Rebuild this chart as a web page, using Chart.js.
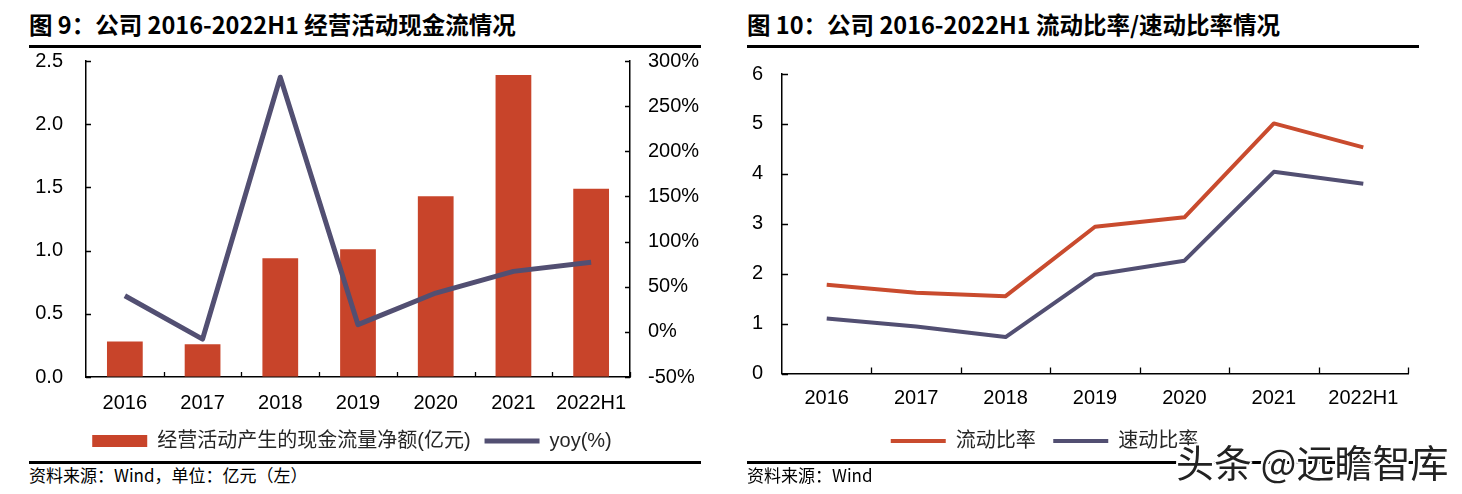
<!DOCTYPE html>
<html><head><meta charset="utf-8">
<script src="https://cdn.jsdelivr.net/npm/chart.js@4.4.0/dist/chart.umd.min.js"></script>
<style>
html,body{margin:0;padding:0;background:#fff;width:1462px;height:494px;overflow:hidden;position:relative;font-family:"Noto Sans CJK SC",sans-serif}
.t{position:absolute;top:9px;font-weight:bold;font-size:23.5px;line-height:30px;color:#000;white-space:nowrap}
.rule{position:absolute;height:3px;background:#000}
.src{position:absolute;top:464px;font-size:17px;line-height:22px;color:#000;white-space:nowrap}
.wrap{position:absolute}
.wm{position:absolute;left:1176px;top:437px;font-size:38px;line-height:48px;color:#222;white-space:nowrap;z-index:5;
 text-shadow:-2px 0 #fff,2px 0 #fff,0 -2px #fff,0 2px #fff,-2px -2px #fff,2px 2px #fff,-2px 2px #fff,2px -2px #fff}
</style></head>
<body>
<div class="t" style="left:29px">图 9：公司 2016-2022H1 经营活动现金流情况</div>
<div class="rule" style="left:29px;width:672px;top:45px"></div>
<div class="t" style="left:747px">图 10：公司 2016-2022H1 流动比率/速动比率情况</div>
<div class="rule" style="left:747px;width:672px;top:45px"></div>

<div class="wrap" style="left:-26px;top:21px;width:756px;height:440px"><canvas id="c1"></canvas></div>
<div class="wrap" style="left:681px;top:34px;width:781px;height:427px"><canvas id="c2"></canvas></div>

<div class="rule" style="left:29px;width:672px;top:461px"></div>
<div class="rule" style="left:747px;width:672px;top:461px"></div>
<div class="src" style="left:29px">资料来源：Wind，单位：亿元（左）</div>
<div class="src" style="left:747px">资料来源：Wind</div>
<div class="wm">头条 @远瞻智库</div>

<script>
// ---- data ----
const categories = ['2016', '2017', '2018', '2019', '2020', '2021', '2022H1'];
const cashFlowNet = [0.28, 0.26, 0.94, 1.01, 1.43, 2.39, 1.49];     // 亿元
const cashFlowYoy = [40, -8, 282, 8, 43, 67, 77];                   // %
const currentRatio = [1.78, 1.62, 1.55, 2.94, 3.13, 5.01, 4.53];
const quickRatio = [1.10, 0.94, 0.73, 1.98, 2.26, 4.04, 3.80];
const cashAxisTicks = [0, 0.5, 1.0, 1.5, 2.0, 2.5];
const yoyAxisTicks = [-50, 0, 50, 100, 150, 200, 250, 300];
const ratioAxisTicks = [0, 1, 2, 3, 4, 5, 6];
const barLabel = '经营活动产生的现金流量净额(亿元)';
const yoyLabel = 'yoy(%)';
const currentLabel = '流动比率';
const quickLabel = '速动比率';

const RED = '#C8442A';
const PURPLE = '#524F72';
const RED_LINE = '#C94B2E';
const TICK_FONT = {family: '"Liberation Sans", Arial, sans-serif', size: 20};
const LEG_FONT = {family: '"Liberation Sans", "Noto Sans CJK SC", sans-serif', size: 20};

const innerTicks = {
  id: 'innerTicks',
  afterDraw(chart, args, opts) {
    const {ctx, chartArea: a} = chart;
    const len = opts.len || 5;
    ctx.save();
    ctx.strokeStyle = '#000';
    ctx.lineWidth = 1.3;
    ctx.beginPath();
    for (const id of Object.keys(chart.scales)) {
      const s = chart.scales[id];
      if (s.axis === 'y') {
        s.ticks.forEach((t, i) => {
          const y = Math.round(s.getPixelForTick(i)) + 0.5;
          if (s.position === 'left') { ctx.moveTo(a.left, y); ctx.lineTo(a.left + len, y); }
          else { ctx.moveTo(a.right, y); ctx.lineTo(a.right - len, y); }
        });
      } else {
        const n = s.ticks.length;
        const w = (s.right - s.left) / n;
        for (let i = 1; i <= n; i++) {
          const x = Math.round(s.left + i * w) + 0.5;
          ctx.moveTo(x, a.bottom); ctx.lineTo(x, a.bottom - len);
        }
      }
    }
    ctx.stroke();
    ctx.restore();
  }
};

function legendLabels(chart) {
  const items = Chart.defaults.plugins.legend.labels.generateLabels(chart);
  items.forEach(it => {
    const ds = chart.data.datasets[it.datasetIndex];
    if (ds.type === 'bar') { it.pointStyle = 'rect'; it.lineWidth = 0; }
    else { it.pointStyle = 'line'; it.lineWidth = ds.borderWidth; it.strokeStyle = ds.borderColor; }
  });
  return items;
}

function fixTicks(arr) {
  return function (scale) {
    scale.ticks = arr.map(v => ({value: v}));
  };
}

const axisBorder = {display: true, color: '#000', width: 1.5};
const noGrid = {display: true, drawOnChartArea: false, drawTicks: false};

new Chart(document.getElementById('c1'), {
  data: {
    labels: categories,
    datasets: [
      {type: 'bar', label: barLabel, data: cashFlowNet, yAxisID: 'y', backgroundColor: RED,
       borderWidth: 0, barPercentage: 0.46, categoryPercentage: 1, order: 1},
      {type: 'line', label: yoyLabel, data: cashFlowYoy, yAxisID: 'y1', borderColor: PURPLE,
       backgroundColor: PURPLE, borderWidth: 5, pointRadius: 0, tension: 0,
       borderJoinStyle: 'round', order: 0}
    ]
  },
  options: {
    responsive: true, maintainAspectRatio: false, animation: false,
    layout: {padding: {top: 40, left: 0, right: 0, bottom: 0}},
    plugins: {
      tooltip: {enabled: false},
      innerTicks: {len: 5},
      legend: {
        position: 'bottom',
        labels: {usePointStyle: true, pointStyleWidth: 55, boxWidth: 55, boxHeight: 12, padding: 14,
                 font: LEG_FONT, color: '#262626', generateLabels: legendLabels,
                 sort: (a, b) => a.datasetIndex - b.datasetIndex}
      }
    },
    scales: {
      x: {
        grid: {...noGrid, offset: true}, border: axisBorder,
        ticks: {font: TICK_FONT, color: '#000', padding: 14, maxRotation: 0, autoSkip: false},
        afterFit(s) { s.height = 40; }
      },
      y: {
        position: 'left', min: 0, max: 2.5,
        grid: noGrid, border: axisBorder,
        ticks: {font: TICK_FONT, color: '#000', padding: 23, callback: v => Number(v).toFixed(1)},
        afterBuildTicks: fixTicks(cashAxisTicks),
        afterFit(s) { s.width = 112; }
      },
      y1: {
        position: 'right', min: -50, max: 300,
        grid: noGrid, border: axisBorder,
        ticks: {font: TICK_FONT, color: '#000', padding: 18, callback: v => v + '%'},
        afterBuildTicks: fixTicks(yoyAxisTicks),
        afterFit(s) { s.width = 100; }
      }
    }
  },
  plugins: [innerTicks]
});

new Chart(document.getElementById('c2'), {
  type: 'line',
  data: {
    labels: categories,
    datasets: [
      {type: 'line', label: currentLabel, data: currentRatio, borderColor: RED_LINE, backgroundColor: RED_LINE,
       borderWidth: 4, pointRadius: 0, tension: 0, borderJoinStyle: 'round'},
      {type: 'line', label: quickLabel, data: quickRatio, borderColor: PURPLE, backgroundColor: PURPLE,
       borderWidth: 4, pointRadius: 0, tension: 0, borderJoinStyle: 'round'}
    ]
  },
  options: {
    responsive: true, maintainAspectRatio: false, animation: false,
    layout: {padding: {top: 40, left: 0, right: 54, bottom: 0}},
    plugins: {
      tooltip: {enabled: false},
      innerTicks: {len: 6},
      legend: {
        position: 'bottom',
        labels: {usePointStyle: true, pointStyleWidth: 55, boxWidth: 55, boxHeight: 12, padding: 17.5,
                 font: LEG_FONT, color: '#262626', generateLabels: legendLabels}
      }
    },
    scales: {
      x: {
        offset: true,
        grid: {...noGrid, offset: true}, border: axisBorder,
        ticks: {font: TICK_FONT, color: '#000', padding: 13, maxRotation: 0, autoSkip: false},
        afterFit(s) { s.height = 40; }
      },
      y: {
        position: 'left', min: 0, max: 6,
        grid: noGrid, border: axisBorder,
        ticks: {font: TICK_FONT, color: '#000', padding: 19},
        afterBuildTicks: fixTicks(ratioAxisTicks),
        afterFit(s) { s.width = 101; }
      }
    }
  },
  plugins: [innerTicks]
});
</script>
</body></html>
